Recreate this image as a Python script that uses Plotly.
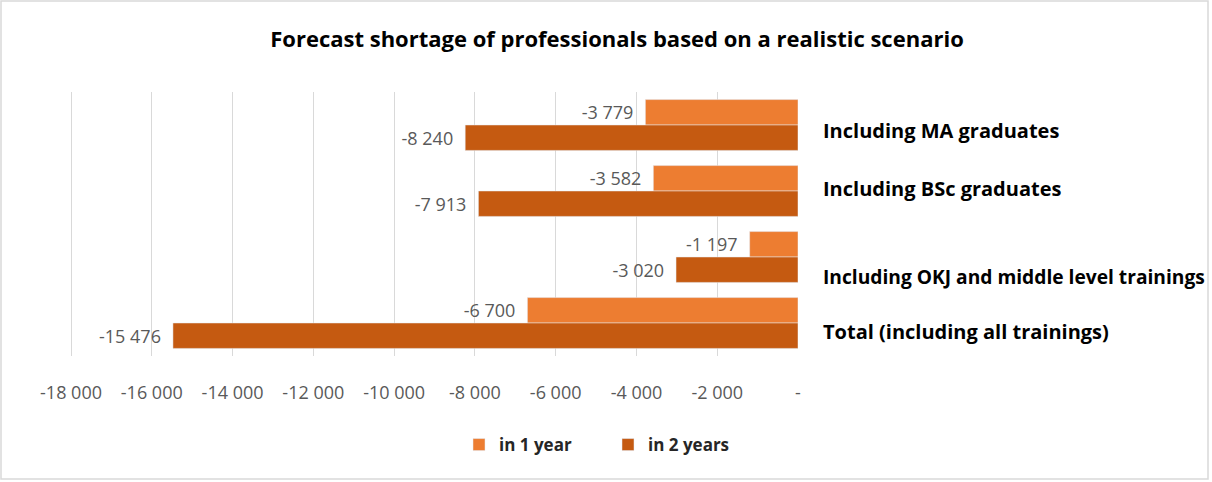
import plotly.graph_objects as go

# Categories listed top to bottom
categories = [
    "Including MA graduates",
    "Including BSc graduates",
    "Including OKJ and middle level trainings",
    "Total (including all trainings)",
]
in_1_year = [-3779, -3582, -1197, -6700]
in_2_years = [-8240, -7913, -3020, -15476]

tick_values = [-18000, -16000, -14000, -12000, -10000, -8000, -6000, -4000, -2000, 0]
tick_labels = ["-18 000", "-16 000", "-14 000", "-12 000", "-10 000",
               "-8 000", "-6 000", "-4 000", "-2 000", "-"]

# vertical nudges and font sizes for the category captions on the right
caption_shift = [-5, 3, -19, -8]
caption_size = [20, 20, 19.2, 20]

W, H = 1212, 482
ML, MR, MT, MB = 70, 414, 92, 126
PW, PH = W - ML - MR, H - MT - MB

GREY = "#595959"
FONT = "Open Sans"


def fmt(v):
    return f"{v:,}".replace(",", " ") + "\u2002"


fig = go.Figure()
fig.add_trace(go.Bar(
    y=categories, x=in_1_year, name="in 1 year", orientation="h",
    marker=dict(color="#ED7D31"),
    text=[fmt(v) for v in in_1_year], textposition="outside",
    textfont=dict(family=FONT, size=18, color=GREY), cliponaxis=False,
))
fig.add_trace(go.Bar(
    y=categories, x=in_2_years, name="in 2 years", orientation="h",
    marker=dict(color="#C55A11"),
    text=[fmt(v) for v in in_2_years], textposition="outside",
    textfont=dict(family=FONT, size=18, color=GREY), cliponaxis=False,
))

for cat, dy, fs in zip(categories, caption_shift, caption_size):
    fig.add_annotation(
        x=0, y=cat, xref="x", yref="y", text=f"<b>{cat}</b>",
        showarrow=False, xanchor="left", yanchor="middle",
        xshift=23, yshift=dy,
        font=dict(family=FONT, size=fs, color="#000000"),
    )

# light frame around the whole chart
fig.add_shape(
    type="rect", xref="paper", yref="paper",
    x0=(1 - ML) / PW, x1=(W - 4 - ML) / PW,
    y0=(PH + MT - (H - 3)) / PH, y1=(PH + MT - 1) / PH,
    line=dict(color="#D9D9D9", width=1.5), fillcolor="rgba(0,0,0,0)", layer="below",
)

fig.update_layout(
    width=W, height=H,
    margin=dict(l=ML, r=MR, t=MT, b=MB),
    paper_bgcolor="white", plot_bgcolor="white",
    barmode="group", bargap=0.23, bargroupgap=0,
    title=dict(
        text="<b>Forecast shortage of professionals based on a realistic scenario</b>",
        x=(617 - ML) / PW, xref="paper", xanchor="center",
        y=1 - 39 / H, yanchor="middle",
        font=dict(family=FONT, size=22, color="#000000"),
    ),
    xaxis=dict(
        range=[-18025, 0], tickvals=tick_values, ticktext=tick_labels,
        showgrid=True, gridcolor="#D9D9D9", gridwidth=1,
        zeroline=False, showline=False, ticks="",
        ticklabelstandoff=24,
        tickfont=dict(family=FONT, size=18, color=GREY),
    ),
    yaxis=dict(
        autorange="reversed", showticklabels=False, showgrid=False,
        zeroline=False, showline=False, ticks="",
    ),
    legend=dict(
        orientation="h", x=(459 - ML) / PW, xanchor="left",
        y=-(445 - (MT + PH)) / PH, yanchor="middle",
        entrywidth=104, entrywidthmode="pixels",
        font=dict(family=FONT, size=17, color="#262626", weight="bold"),
        bgcolor="rgba(0,0,0,0)",
    ),
    showlegend=True,
)

fig.write_html("out.html")
